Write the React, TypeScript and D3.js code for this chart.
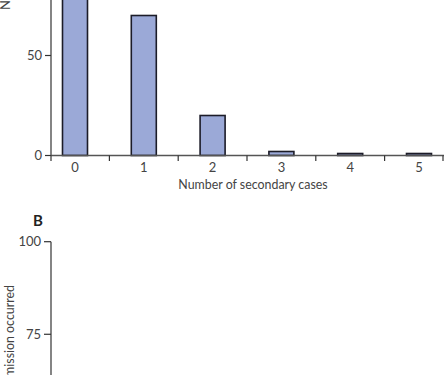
import React from "react";
import * as d3 from "d3";

const categories = ["0", "1", "2", "3", "4", "5"];
const counts = [104, 70, 20, 2, 1, 1];
const topTicks = [0, 50, 100];
const bottomTicks = [75, 100];

const W = 444;
const H = 375;
const FONT = "Lato, 'Open Sans', sans-serif";

export default function App() {
  const axisX = 51;
  // Panel A scales
  const x = d3.scaleLinear().domain([0, 5]).range([75, 419]);
  const yA = d3.scaleLinear().domain([0, 100]).range([155.5, -44.5]);
  // Panel B scale
  const yB = d3.scaleLinear().domain([0, 100]).range([612, 241.7]);
  const barW = 25;
  const y0 = yA(0);
  const boundaries = d3.range(0.5, 5, 1);
  const fs = 12.4;

  return (
    <svg
      width={W}
      height={H}
      style={{ position: "absolute", left: 0, top: 0, background: "#fff" }}
      fontFamily={FONT}
    >
      {/* Panel A y-axis label (cut off) */}
      <text
        transform={`translate(10,10) rotate(-90)`}
        fontSize={13}
        fill="#444"
        textAnchor="start"
      >
        Number of primary cases
      </text>

      {/* Bars */}
      {counts.map((c, i) => (
        <rect
          key={i}
          x={x(i) - barW / 2}
          y={yA(c)}
          width={barW}
          height={y0 - yA(c)}
          fill="#9BA9D7"
          stroke="#1c1c28"
          strokeWidth={1.6}
        />
      ))}

      {/* Panel A y axis */}
      <line x1={axisX} x2={axisX} y1={0} y2={y0} stroke="#333" strokeWidth={1.2} />
      {topTicks.map((t) => (
        <g key={t} transform={`translate(0,${yA(t)})`}>
          <line x1={axisX - 6} x2={axisX} stroke="#333" strokeWidth={1.2} />
          <text x={axisX - 9} dy="0.35em" textAnchor="end" fontSize={13} fill="#444">
            {t}
          </text>
        </g>
      ))}

      {/* Panel A x axis */}
      <line x1={axisX} x2={W} y1={y0} y2={y0} stroke="#555" strokeWidth={1.4} />
      <line x1={axisX} x2={axisX} y1={y0} y2={y0 + 5.5} stroke="#333" strokeWidth={1.2} />
      <line x1={443} x2={443} y1={y0} y2={y0 + 5.5} stroke="#333" strokeWidth={1.2} />
      {boundaries.map((b) => (
        <line key={b} x1={x(b)} x2={x(b)} y1={y0} y2={y0 + 5.5} stroke="#333" strokeWidth={1.2} />
      ))}
      {categories.map((c, i) => (
        <text key={c} x={x(i)} y={172} textAnchor="middle" fontSize={13} fill="#444">
          {c}
        </text>
      ))}
      <text x={253} y={189} textAnchor="middle" fontSize={fs} fill="#444">
        Number of secondary cases
      </text>

      {/* Panel B */}
      <text x={38} y={226} textAnchor="middle" fontSize={15} fontWeight="bold" fill="#222">
        B
      </text>
      <line x1={axisX} x2={axisX} y1={yB(100)} y2={H} stroke="#333" strokeWidth={1.2} />
      {bottomTicks.map((t) => (
        <g key={t} transform={`translate(0,${yB(t)})`}>
          <line x1={axisX - 7} x2={axisX} stroke="#333" strokeWidth={1.2} />
          <text x={axisX - 10} dy="0.35em" textAnchor="end" fontSize={13} fill="#444">
            {t}
          </text>
        </g>
      ))}
      <text
        transform={`translate(13.5,285) rotate(-90)`}
        fontSize={fs}
        fill="#444"
        textAnchor="end"
      >
        Percentage of clusters in which transmission occurred
      </text>
    </svg>
  );
}
